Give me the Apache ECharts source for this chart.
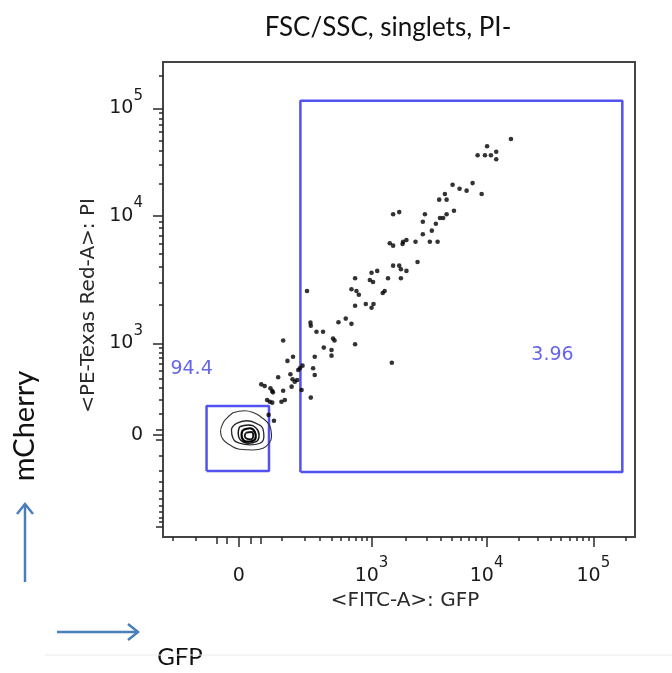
<!DOCTYPE html>
<html><head><meta charset="utf-8">
<script src="https://cdn.jsdelivr.net/npm/echarts@6/dist/echarts.min.js"></script>
<style>html,body{margin:0;padding:0;background:#fff;}#c{width:672px;height:673px;}</style>
</head><body><div id="c"></div>
<script>
// ---------- texts ----------
const titleText = 'FSC/SSC, singlets, PI-';
const xAxisTitle = '<FITC-A>: GFP';
const yAxisTitle = '<PE-Texas Red-A>: PI';
const xChannelName = 'GFP';
const yChannelName = 'mCherry';

// ---------- tick values (fluorescence units) ----------
const majorTickValues = [0, 1000, 10000, 100000];
const majorTickLabels = ['{b|0}', '{b|10}{s|3}', '{b|10}{s|4}', '{b|10}{s|5}'];
const xMediumTicks = [-40, -20, 20, 40];
const xMinorTicks = [-200, -100, 100, 200, 300, 400, 500, 600, 700, 800, 900,
  2000, 3000, 4000, 5000, 6000, 7000, 8000, 9000,
  20000, 30000, 40000, 50000, 60000, 70000, 80000, 90000, 200000];
const yMediumTicks = [-1000, -20, 20];
const yMinorTicks = [-900, -800, -700, -600, -500, -400, -300, -200, -100,
  100, 200, 300, 400, 500, 600, 700, 800, 900,
  2000, 3000, 4000, 5000, 6000, 7000, 8000, 9000,
  20000, 30000, 40000, 50000, 60000, 70000, 80000, 90000, 200000];

// ---------- individual events (GFP, PI) ----------
const eventsGFP = [16900, 10100, 8350, 9670, 10970, 12300, 12300, 5060, 5820, 6700,
  7550, 9050, 4340, 3870, 4490, 1540, 1740, 2910, 5200, 4490,
  3930, 4190, 2790, 3620, 3340, 2790, 3210, 3750, 2410, 2010,
  1880, 1860, 1440, 1540, 2510, 1540, 1740, 1800, 2010, 1800,
  1390, 1120, 1000, 963, 1030, 693, 638, 715, 754, 1250,
  1300, 693, 881, 1000, 1040, 472, 560, 638, 415, 430,
  693, 400, 400, 1500, 235, 237, 275, 325, 331, 263,
  252, 263, 237, 104, 143, 120, 189, 175, 167, 87,
  132, 141, 151, 162, 137, 184, 104, 41, 49, 64,
  69, 71, 55, 62, 69, 98, 110, 59, 74, 214];
const eventsPI = [51800, 44300, 36500, 36500, 36500, 39400, 33500, 19400, 17800, 17100,
  20100, 15900, 15900, 14100, 14100, 10300, 10800, 10300, 11100, 10300,
  9590, 9590, 8970, 8650, 7630, 7150, 6250, 6250, 6250, 6450,
  6250, 6000, 6080, 5820, 4340, 4060, 4060, 3800, 3690, 3230,
  3230, 3690, 3570, 3130, 3020, 3230, 2650, 2570, 2400, 2480,
  2570, 1970, 2030, 1900, 2030, 1460, 1560, 1420, 1090, 1050,
  976, 852, 742, 620, 1450, 1370, 1230, 1230, 902, 723,
  536, 446, 215, 1050, 723, 650, 575, 536, 512, 417,
  455, 394, 366, 386, 314, 282, 275, 338, 321, 298,
  272, 260, 196, 183, 176, 183, 196, 96, 64, 2570];

// ---------- density contours of the main population [GFP, PI] ----------
const contourOuter = [[-9,109],[9,121],[27,106],[41,83],[58,51],[65,24],[67,-7],[60,-35],[45,-59],[24,-68],[1,-64],[-14,-43],[-27,-18],[-32,13],[-27,51],[-20,77]];
const contourMid = [[-3.5,51],[12,64],[30,51],[45,24],[47,-7],[38,-35],[18,-43],[1,-35],[-9,-13],[-11.5,20]];
const contourInner = [[1,35],[15,43],[30,28],[36,0],[30,-28],[15,-35],[2,-20],[-1,7]];
const contourDense = [[6,20],[18,28],[27,13],[29,-7],[24,-24],[12,-28],[5,-13],[4,2]];
const contourCore = [[11,9],[21,12],[24,-2],[19,-18],[12,-15],[9,-2]];

// ---------- gates ----------
const gateNeg = {name: '94.4', xMin: -66, xMax: 60, yMin: -204, yMax: 152};
const gatePos = {name: '3.96', xMin: 178, xMax: 187000, yMin: -212, yMax: 117700};

// ---------- biexponential-like display scale ----------
function makeBiex(w, d3, d4, d5) {
  const lin = Math.log10(1 + 1000 / w);
  return function (v) {
    const a = Math.abs(v), s = v < 0 ? -1 : 1;
    let d;
    if (a <= 1000) d = d3 * Math.log10(1 + a / w) / lin;
    else {
      const L = Math.log10(a);
      d = L <= 4 ? d3 + (L - 3) * (d4 - d3) : d4 + (L - 4) * (d5 - d4);
    }
    return s * d;
  };
}
const fx = makeBiex(70, 1.184, 2.211, 3.163);
const fy = makeBiex(200, 0.854, 2.042, 3.042);
const xMin = -0.677, xMax = 3.535, yMin = -0.95, yMax = 3.473;

const FONT = 'DejaVu Sans';
const labelRich = {
  b: {fontFamily: FONT, fontSize: 19, lineHeight: 40, color: '#1a1a1a'},
  s: {fontFamily: FONT, fontSize: 15, lineHeight: 40, verticalAlign: 'top', color: '#1a1a1a'}
};

function tickAxis(dim, values, len, withLabels) {
  const f = dim === 'x' ? fx : fy;
  const majorD = majorTickValues.map(f);
  const ax = {
    type: 'value', gridIndex: 0,
    min: dim === 'x' ? xMin : yMin, max: dim === 'x' ? xMax : yMax,
    position: dim === 'x' ? 'bottom' : 'left',
    axisLine: {show: false, onZero: false},
    splitLine: {show: false},
    axisTick: {show: true, length: len, customValues: values.map(f),
      lineStyle: {color: '#2a2a2a', width: 1.5}},
    axisLabel: {show: false}
  };
  if (withLabels) {
    ax.axisLabel = {
      show: true, customValues: majorD, margin: dim === 'x' ? 19 : 20,
      formatter: function (v) {
        let best = 0;
        majorD.forEach((d, i) => { if (Math.abs(d - v) < Math.abs(majorD[best] - v)) best = i; });
        return majorTickLabels[best];
      },
      rich: labelRich
    };
    ax.name = dim === 'x' ? xAxisTitle : yAxisTitle;
    ax.nameLocation = 'middle';
    ax.nameGap = dim === 'x' ? 62 : 69;
    ax.nameTextStyle = {fontFamily: FONT, fontSize: 20, color: '#2a2a2a', verticalAlign: 'middle', align: 'center',
      padding: dim === 'x' ? [0, 0, 0, 12] : [0, 12, 0, 0]};
  }
  return ax;
}

function rectPath(g) {
  return [[g.xMin, g.yMin], [g.xMin, g.yMax], [g.xMax, g.yMax], [g.xMax, g.yMin], [g.xMin, g.yMin]]
    .map(p => [fx(p[0]), fy(p[1])]);
}
function contourPath(c) {
  const pts = c.concat([c[0]]);
  return pts.map(p => [fx(p[0]), fy(p[1])]);
}

const series = [];
[[contourOuter, '#333', 1.1], [contourMid, '#2a2a2a', 1.3], [contourInner, '#1a1a1a', 1.5],
 [contourDense, '#000', 2.2], [contourCore, '#111', 1.8]].forEach(c => {
  series.push({type: 'line', data: contourPath(c[0]), smooth: 0.5, symbol: 'none',
    lineStyle: {color: c[1], width: c[2]}, silent: true, z: 3});
});
[gateNeg, gatePos].forEach(g => {
  series.push({type: 'line', data: rectPath(g), symbol: 'none',
    lineStyle: {color: '#5252f0', width: 2.5}, silent: true, z: 2});
});
series.push({type: 'scatter', symbol: 'circle', symbolSize: 4.6,
  itemStyle: {color: '#000'}, z: 4,
  data: eventsGFP.map((g, i) => [fx(g), fy(eventsPI[i])])});
series.push({type: 'scatter', symbolSize: 1, itemStyle: {color: 'rgba(0,0,0,0)'}, z: 5,
  label: {show: true, position: 'inside', formatter: p => p.name,
    fontFamily: FONT, fontSize: 19, color: '#3c3ce8'},
  data: [{name: gateNeg.name, value: [fx(-115), fy(526)]},
         {name: gatePos.name, value: [fx(41400), fy(755)]}]});

const chart = echarts.init(document.getElementById('c'), null, {renderer: 'canvas'});
chart.setOption({
  animation: false,
  backgroundColor: '#fff',
  grid: {left: 163, top: 62, width: 472, height: 475, show: true,
    borderColor: '#444', borderWidth: 2, backgroundColor: '#fff', outerBoundsMode: 'none'},
  xAxis: [tickAxis('x', majorTickValues, 10, true), tickAxis('x', xMediumTicks, 7, false), tickAxis('x', xMinorTicks, 4, false)],
  yAxis: [tickAxis('y', majorTickValues, 10, true), tickAxis('y', yMediumTicks, 7, false), tickAxis('y', yMinorTicks, 4, false)],
  series: series,
  graphic: [
    {type: 'text', x: 388, y: 28, style: {text: titleText, font: '26px Lato', fill: '#111', align: 'center', verticalAlign: 'middle'}},
    {type: 'text', x: 25, y: 426, rotation: Math.PI / 2, style: {text: yChannelName, font: '29px Lato', fill: '#111', align: 'center', verticalAlign: 'middle'}},
    {type: 'text', x: 180, y: 657, style: {text: xChannelName, font: '24px Lato', fill: '#111', align: 'center', verticalAlign: 'middle'}},
    {type: 'line', shape: {x1: 25, y1: 582, x2: 25, y2: 505}, style: {stroke: '#4a7ebb', lineWidth: 2.5}},
    {type: 'polyline', shape: {points: [[17, 514], [25, 504], [33, 514]]}, style: {stroke: '#4a7ebb', lineWidth: 2.5, fill: null}},
    {type: 'line', shape: {x1: 57, y1: 632, x2: 137, y2: 632}, style: {stroke: '#4a7ebb', lineWidth: 2.5}},
    {type: 'polyline', shape: {points: [[128, 624], [138, 632], [128, 640]]}, style: {stroke: '#4a7ebb', lineWidth: 2.5, fill: null}},
    {type: 'line', shape: {x1: 45, y1: 655, x2: 672, y2: 655}, style: {stroke: '#ececec', lineWidth: 1}}
  ]
});
</script></body></html>
